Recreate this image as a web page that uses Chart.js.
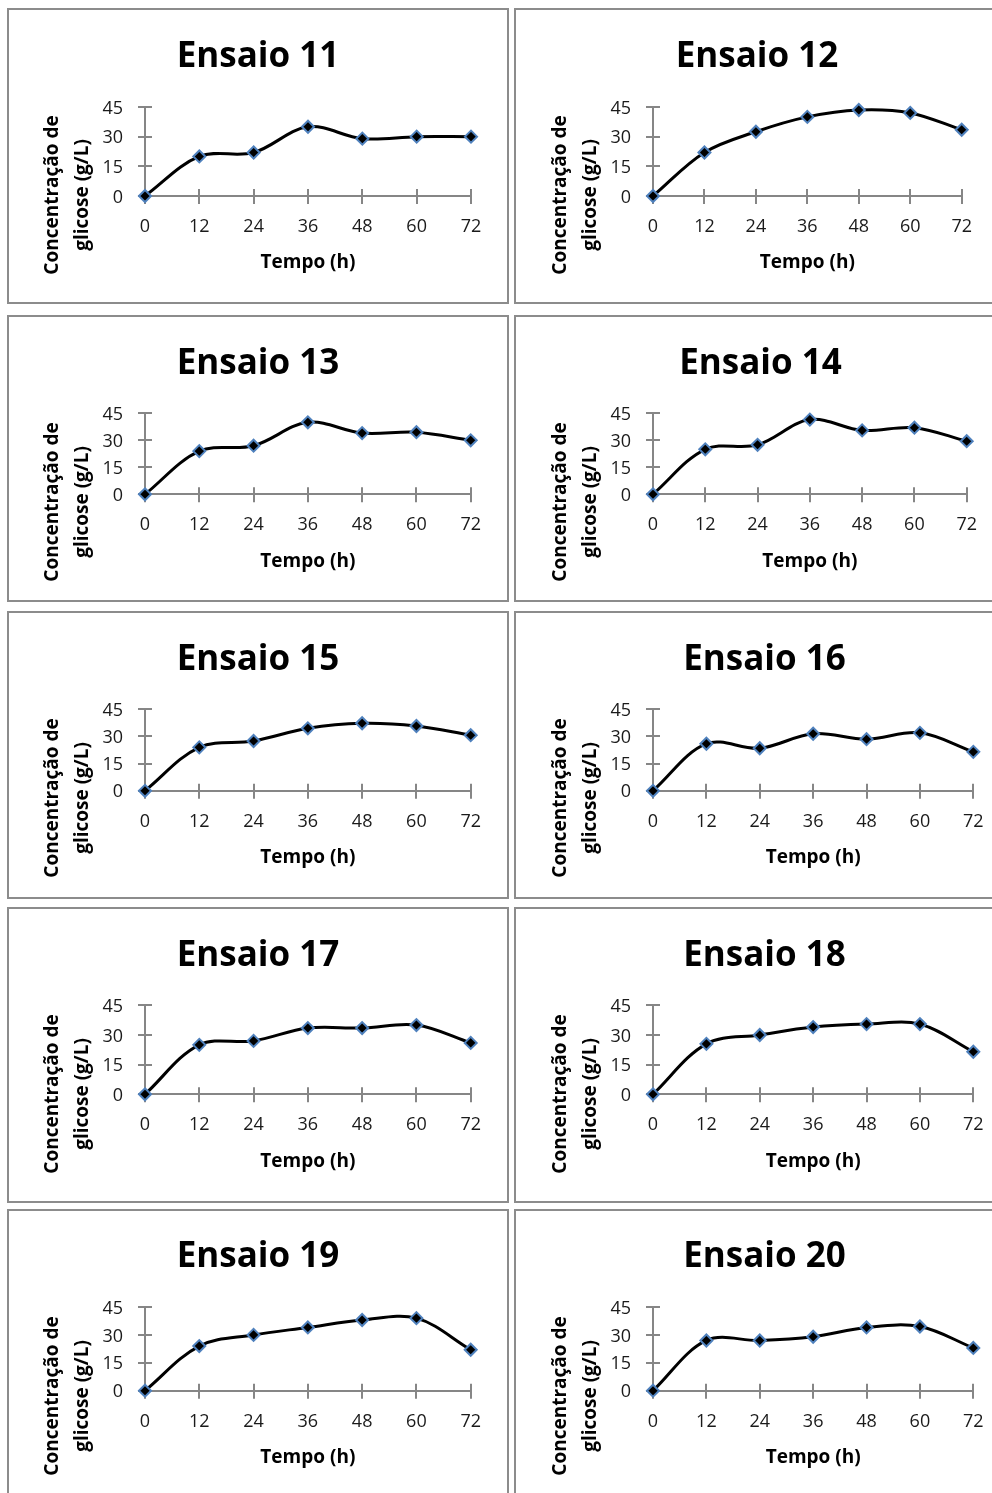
<!DOCTYPE html>
<html lang="pt">
<head>
<meta charset="utf-8">
<script src="https://cdn.jsdelivr.net/npm/chart.js@4.4.0/dist/chart.umd.min.js"></script>
<style>
  html, body { margin: 0; padding: 0; background: #fff; }
  body { width: 992px; height: 1493px; overflow: hidden; position: relative; }
  canvas.painel { position: absolute; border: 2px solid #8c8c8c; background: #fff; }
</style>
</head>
<body>
<script>
// Dados (glicose em g/L ao longo do tempo)
const tempos = [0, 12, 24, 36, 48, 60, 72];
const ensaio11 = [0, 20, 22, 35, 29, 30, 30];
const ensaio12 = [0, 22, 32.5, 40, 43.5, 42, 33.5];
const ensaio13 = [0, 24, 27, 40, 34, 34.5, 30];
const ensaio14 = [0, 25, 27.5, 41.5, 35.5, 37, 29.5];
const ensaio15 = [0, 24, 27.5, 34.5, 37.3, 35.8, 30.7];
const ensaio16 = [0, 26, 23.5, 31.5, 28.5, 32, 21.5];
const ensaio17 = [0, 25, 27, 33.5, 33.5, 35, 26];
const ensaio18 = [0, 25.5, 30, 34, 35.5, 35.5, 21.5];
const ensaio19 = [0, 24, 30, 34, 38, 39, 22];
const ensaio20 = [0, 27, 27, 29, 34, 34.5, 23];
const ticksY = [0, 15, 30, 45];
const tituloX = 'Tempo (h)';
const tituloY = ['Concentração de', 'glicose (g/L)'];

const FONTE = '"Open Sans", Lato, sans-serif';
const CINZA = '#868686';

// Posições dos painéis na página
const linhas = [
    { top: 8,    height: 296, plotTop: 107,    plotBottom: 196 },
    { top: 315,  height: 287, plotTop: 413.3,  plotBottom: 494.3 },
    { top: 611,  height: 288, plotTop: 709.3,  plotBottom: 790.8 },
    { top: 907,  height: 296, plotTop: 1005.3, plotBottom: 1094.3 },
    { top: 1209, height: 300, plotTop: 1307,   plotBottom: 1390.7 }
];
const colunas = [
    { left: 7,   plotLeft: 145 },
    { left: 514, plotLeft: 653 }
];

const paineis = [
    { nome: 'Ensaio 11', dados: ensaio11, col: 0, lin: 0, plotRight: 471,   centro: 258 },
    { nome: 'Ensaio 12', dados: ensaio12, col: 1, lin: 0, plotRight: 961.7, centro: 757 },
    { nome: 'Ensaio 13', dados: ensaio13, col: 0, lin: 1, plotRight: 470.7, centro: 258 },
    { nome: 'Ensaio 14', dados: ensaio14, col: 1, lin: 1, plotRight: 966.7, centro: 760.5 },
    { nome: 'Ensaio 15', dados: ensaio15, col: 0, lin: 2, plotRight: 470.7, centro: 258 },
    { nome: 'Ensaio 16', dados: ensaio16, col: 1, lin: 2, plotRight: 973.3, centro: 764.5 },
    { nome: 'Ensaio 17', dados: ensaio17, col: 0, lin: 3, plotRight: 470.7, centro: 258 },
    { nome: 'Ensaio 18', dados: ensaio18, col: 1, lin: 3, plotRight: 973.3, centro: 764.5 },
    { nome: 'Ensaio 19', dados: ensaio19, col: 0, lin: 4, plotRight: 470.7, centro: 258 },
    { nome: 'Ensaio 20', dados: ensaio20, col: 1, lin: 4, plotRight: 973.3, centro: 764.5 }
];

// Marcas de escala que cruzam os eixos (estilo Excel)
const marcasCruzadas = {
    id: 'marcasCruzadas',
    beforeDatasetsDraw(chart) {
        const ctx = chart.ctx;
        const area = chart.chartArea;
        const x = chart.scales.x, y = chart.scales.y;
        ctx.save();
        ctx.strokeStyle = CINZA;
        ctx.lineWidth = 2;
        ctx.beginPath();
        x.ticks.forEach(t => {
            const px = Math.round(x.getPixelForValue(t.value));
            ctx.moveTo(px, area.bottom - 7);
            ctx.lineTo(px, area.bottom + 8);
        });
        y.ticks.forEach(t => {
            const py = Math.round(y.getPixelForValue(t.value));
            ctx.moveTo(area.left - 7, py);
            ctx.lineTo(area.left + 7, py);
        });
        ctx.stroke();
        ctx.restore();
    }
};

// Título do eixo Y em duas linhas, centrado no painel
const tituloEixoY = {
    id: 'tituloEixoY',
    afterDraw(chart, args, opts) {
        const ctx = chart.ctx;
        const area = chart.chartArea;
        ctx.save();
        ctx.fillStyle = '#000';
        ctx.font = 'bold ' + opts.tamanho + 'px ' + FONTE;
        ctx.textAlign = 'center';
        ctx.textBaseline = 'middle';
        opts.linhas.forEach((txt, i) => {
            ctx.save();
            ctx.translate(area.left + opts.deslocX[i], opts.centroY);
            ctx.rotate(-Math.PI / 2);
            ctx.fillText(txt, 0, 0);
            ctx.restore();
        });
        ctx.restore();
    }
};

function criarPainel(p) {
    const lin = linhas[p.lin];
    const col = colunas[p.col];
    const x0 = col.left + 2, y0 = lin.top + 2;      // canto do conteúdo do canvas
    const cw = Math.round(2 * (p.centro - x0));
    const ch = lin.height - 4;
    const plotLeft = col.plotLeft - x0;
    const plotRight = p.plotRight - x0;
    const plotTop = lin.plotTop - y0;
    const plotBottom = lin.plotBottom - y0;

    const canvas = document.createElement('canvas');
    canvas.className = 'painel';
    canvas.width = cw;
    canvas.height = ch;
    canvas.style.boxSizing = 'content-box';   // a borda fica fora da área desenhada
    canvas.style.left = col.left + 'px';
    canvas.style.top = lin.top + 'px';
    canvas.style.width = cw + 'px';
    canvas.style.height = ch + 'px';
    document.body.appendChild(canvas);

    const tamTitulo = 35;
    const centroTitulo = plotTop - 49.5;
    const padTop = centroTitulo - tamTitulo / 2;
    const padBottom = plotTop - padTop - tamTitulo;

    const tamEixo = 19;
    const centroTituloX = plotBottom + 67;

    return new Chart(canvas, {
        type: 'line',
        data: {
            datasets: [{
                label: p.nome,
                data: tempos.map((t, i) => ({ x: t, y: p.dados[i] })),
                borderColor: '#000',
                borderWidth: 3,
                tension: 0.35,
                pointStyle: 'rectRot',
                pointRadius: 6,
                pointBorderWidth: 2,
                pointBackgroundColor: '#000',
                pointBorderColor: '#4f81bd',
                clip: false
            }]
        },
        options: {
            responsive: false,
            animation: false,
            devicePixelRatio: 1,
            layout: { padding: 0 },
            plugins: {
                legend: { display: false },
                tooltip: { enabled: false },
                title: {
                    display: true,
                    text: p.nome,
                    color: '#000',
                    font: { family: FONTE, size: tamTitulo, weight: 'bold', lineHeight: 1 },
                    padding: { top: padTop, bottom: padBottom }
                },
                tituloEixoY: {
                    linhas: tituloY,
                    tamanho: tamEixo,
                    deslocX: [-92, -62],
                    centroY: 185
                }
            },
            scales: {
                x: {
                    type: 'linear',
                    min: tempos[0],
                    max: tempos[tempos.length - 1],
                    afterBuildTicks: s => { s.ticks = tempos.map(v => ({ value: v })); },
                    afterFit: s => {
                        s.height = ch - plotBottom;
                        s.paddingRight = cw - plotRight;
                    },
                    grid: { display: false, drawTicks: false },
                    border: { display: true, color: CINZA, width: 2 },
                    ticks: {
                        color: '#1a1a1a',
                        padding: 22,
                        font: { family: FONTE, size: 18, lineHeight: 1 }
                    },
                    title: {
                        display: true,
                        text: tituloX,
                        color: '#000',
                        font: { family: FONTE, size: tamEixo, weight: 'bold', lineHeight: 1 },
                        padding: { top: 0, bottom: ch - tamEixo / 2 - centroTituloX }
                    }
                },
                y: {
                    min: ticksY[0],
                    max: ticksY[ticksY.length - 1],
                    afterBuildTicks: s => { s.ticks = ticksY.map(v => ({ value: v })); },
                    afterFit: s => { s.width = plotLeft; },
                    grid: { display: false, drawTicks: false },
                    border: { display: true, color: CINZA, width: 2 },
                    ticks: {
                        color: '#1a1a1a',
                        padding: 22,
                        labelOffset: 1.5,
                        font: { family: FONTE, size: 18, lineHeight: 1 }
                    }
                }
            }
        },
        plugins: [marcasCruzadas, tituloEixoY]
    });
}

paineis.forEach(criarPainel);
</script>
</body>
</html>
